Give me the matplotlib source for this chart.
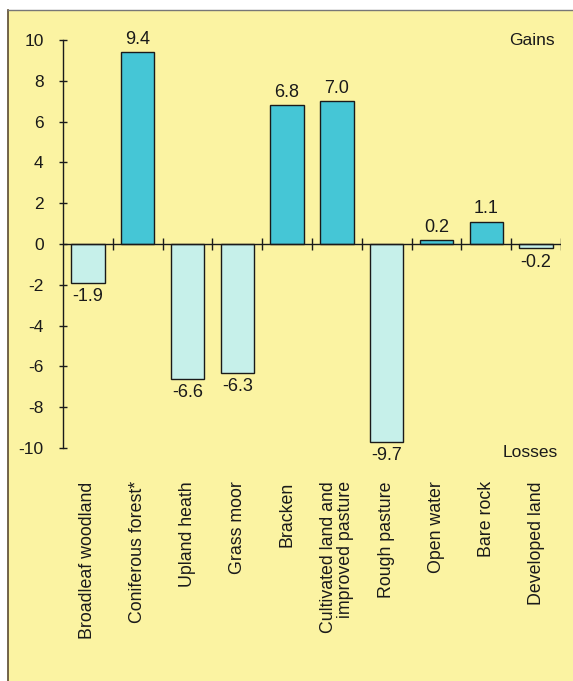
import matplotlib
matplotlib.use("Agg")
import matplotlib.pyplot as plt
from matplotlib.patches import Rectangle
import numpy as np

categories = [
    "Broadleaf woodland",
    "Coniferous forest*",
    "Upland heath",
    "Grass moor",
    "Bracken",
    "Cultivated land and\nimproved pasture",
    "Rough pasture",
    "Open water",
    "Bare rock",
    "Developed land",
]
change = [-1.9, 9.4, -6.6, -6.3, 6.8, 7.0, -9.7, 0.2, 1.1, -0.2]
value_labels = ["-1.9", "9.4", "-6.6", "-6.3", "6.8", "7.0", "-9.7", "0.2", "1.1", "-0.2"]
y_ticks = [-10, -8, -6, -4, -2, 0, 2, 4, 6, 8, 10]

plt.rcParams["font.family"] = ["Liberation Sans", "DejaVu Sans"]

BG = "#FBF3A2"
GAIN = "#45C6D6"
LOSS = "#C6F0EA"
INK = "#1a1a1a"

W, H = 573, 681
fig = plt.figure(figsize=(W / 100, H / 100), dpi=100)
fig.patch.set_facecolor("white")

# yellow panel with a thin border on its left and top edges
px, py = 8 / W, 1 - 10 / H
fig.add_artist(Rectangle((px, 0), 1 - px, py, transform=fig.transFigure,
                         facecolor=BG, edgecolor="none", zorder=-10))
fig.add_artist(plt.Line2D([px, px], [0, py], transform=fig.transFigure,
                          color="#5a4a30", lw=1.2, zorder=-9))
fig.add_artist(plt.Line2D([px, 1], [py, py], transform=fig.transFigure,
                          color="#777777", lw=1.0, zorder=-9))

left, right = 63 / W, 561 / W
top, bottom = 1 - 40 / H, 1 - 448 / H
ax = fig.add_axes([left, bottom, right - left, top - bottom])
ax.set_zorder(5)
ax.set_facecolor("none")

x = np.arange(len(categories))
colors = [GAIN if v >= 0 else LOSS for v in change]
ax.bar(x, change, width=0.67, color=colors, edgecolor=INK, linewidth=1.0, zorder=2)

# value labels above gains, below losses
for xi, v, lab in zip(x, change, value_labels):
    if v >= 0:
        ax.annotate(lab, (xi, v), xytext=(0, 3), textcoords="offset points",
                    ha="center", va="bottom", fontsize=13, color=INK)
    else:
        ax.annotate(lab, (xi, v), xytext=(0, -4), textcoords="offset points",
                    ha="center", va="top", fontsize=13, color=INK)

ax.set_xlim(-0.5, len(categories) - 0.5)
ax.set_ylim(-10, 10)

# zero line with boundary ticks between categories
ax.axhline(0, color=INK, lw=1.0, zorder=3)
bounds = np.arange(len(categories)) + 0.5
ax.vlines(bounds, -0.28, 0.28, color=INK, lw=1.0, zorder=3)

for s in ["top", "right", "bottom"]:
    ax.spines[s].set_visible(False)
ax.spines["left"].set_color(INK)
ax.spines["left"].set_linewidth(1.0)

ax.set_yticks(y_ticks)
ax.set_yticklabels([str(t) for t in y_ticks])
ax.tick_params(axis="y", direction="inout", length=6, width=1.0, pad=11,
               labelsize=12.5, colors=INK)

ax.set_xticks(x)
ax.set_xticklabels(categories, rotation=90, fontsize=12.8, color=INK,
                   multialignment="right", linespacing=0.95)
ax.tick_params(axis="x", length=0, pad=24)

fig.text(555 / W, 1 - 33 / H, "Gains", ha="right", va="top", fontsize=12.5,
         color=INK, zorder=6)
fig.text(558 / W, 1 - 445 / H, "Losses", ha="right", va="top", fontsize=12.5,
         color=INK, zorder=6)

fig.savefig("out.png", dpi=100, facecolor=fig.get_facecolor())
